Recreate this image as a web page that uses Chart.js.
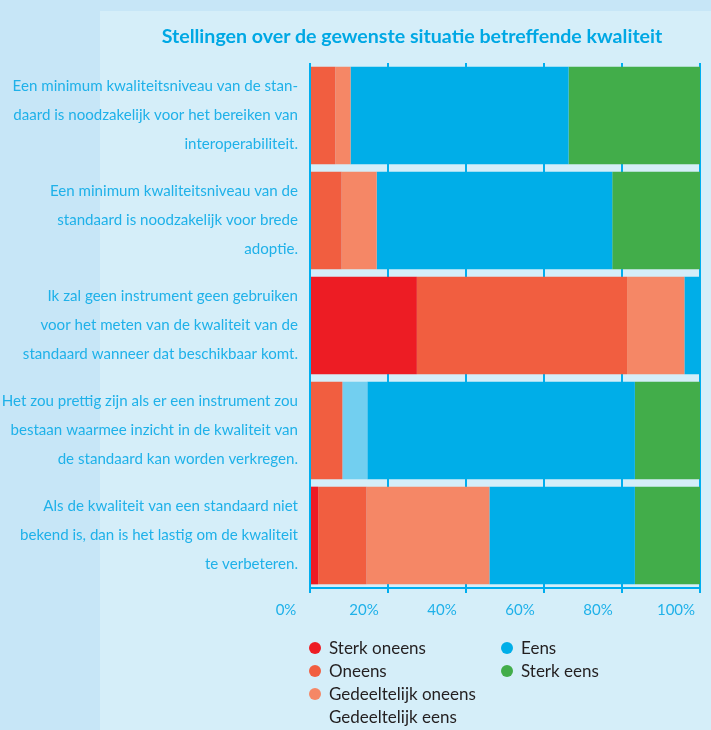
<!DOCTYPE html>
<html>
<head>
<meta charset="utf-8">
<script src="https://cdn.jsdelivr.net/npm/chart.js@4.4.0/dist/chart.umd.min.js"></script>
<style>
  html, body { margin: 0; padding: 0; }
  body { width: 711px; height: 730px; background: #c7e6f7; position: relative; overflow: hidden; font-family: Lato, "Noto Sans", sans-serif; }
  #panel { position: absolute; left: 100px; top: 11px; right: 0; bottom: 0; background: #d5eef9; }
  #wrap { position: absolute; left: 0; top: 0; width: 711px; height: 730px; }
  #title { position: absolute; left: 100px; width: 624px; top: 24px; text-align: center; font-weight: bold; font-size: 19.6px; line-height: 24px; color: #00a8e4; }
  #legend { position: absolute; left: 309px; top: 636px; display: grid; grid-auto-flow: column; grid-template-rows: repeat(4, 23px); grid-template-columns: 192px 192px; font-size: 17px; color: #231f20; }
  .item { display: flex; align-items: center; white-space: nowrap; }
  .dot { width: 12px; height: 12px; border-radius: 50%; margin-right: 8px; flex: none; }
</style>
</head>
<body>
<div id="panel"></div>
<div id="wrap"><canvas id="chart" width="711" height="730"></canvas></div>
<div id="title">Stellingen over de gewenste situatie betreffende kwaliteit</div>
<div id="legend"></div>
<script>
const categories = [
  ["Een minimum kwaliteitsniveau van de stan-", "daard is noodzakelijk voor het bereiken van", "interoperabiliteit."],
  ["Een minimum kwaliteitsniveau van de", "standaard is noodzakelijk voor brede", "adoptie."],
  ["Ik zal geen instrument geen gebruiken", "voor het meten van de kwaliteit van de", "standaard wanneer dat beschikbaar komt."],
  ["Het zou prettig zijn als er een instrument zou", "bestaan waarmee inzicht in de kwaliteit van", "de standaard kan worden verkregen."],
  ["Als de kwaliteit van een standaard niet", "bekend is, dan is het lastig om de kwaliteit", "te verbeteren."]
];

const seriesNames = ["Sterk oneens", "Oneens", "Gedeeltelijk oneens", "Gedeeltelijk eens", "Eens", "Sterk eens"];
const sterkOneens = [0, 0, 27.4, 0, 2.1];
const oneens = [6.5, 8.1, 53.9, 8.3, 12.4];
const gedeeltelijkOneens = [3.9, 9.0, 14.7, 0, 31.5];
const gedeeltelijkEens = [0, 0, 0, 6.4, 0];
const eens = [55.9, 60.4, 4.0, 68.6, 37.3];
const sterkEens = [33.7, 22.5, 0, 16.7, 16.7];
const xTicks = [0, 20, 40, 60, 80, 100];

const colors = ["#ed1c24", "#f15e40", "#f58766", "#72cff0", "#00aee8", "#42ad4a"];
const noDot = [false, false, false, true, false, false];
const blue = "#00aeef";
const labelBlue = "#1fb1e9";
const family = "Lato, 'Noto Sans', sans-serif";

const values = [sterkOneens, oneens, gedeeltelijkOneens, gedeeltelijkEens, eens, sterkEens];

const datasets = seriesNames.map((name, i) => ({
  label: name,
  data: values[i],
  backgroundColor: colors[i],
  borderWidth: 0,
  barPercentage: 0.93,
  categoryPercentage: 1.0
}));

new Chart(document.getElementById("chart").getContext("2d"), {
  type: "bar",
  data: { labels: categories, datasets: datasets },
  options: {
    indexAxis: "y",
    responsive: false,
    animation: false,
    layout: { padding: { top: 63, right: 11, bottom: 102, left: 0 } },
    plugins: { legend: { display: false }, tooltip: { enabled: false } },
    scales: {
      x: {
        stacked: true,
        min: 0,
        max: 100,
        afterBuildTicks: s => { s.ticks = xTicks.map(v => ({ value: v })); },
        afterFit: s => { s.height = 40; s.paddingLeft = 0; s.paddingRight = 0; },
        grid: { color: blue, lineWidth: 2, tickLength: 5 },
        border: { display: true, color: blue, width: 2 },
        ticks: {
          labelOffset: -24,
          padding: 8,
          color: labelBlue,
          font: { size: 15, family: family },
          callback: v => v + "%"
        }
      },
      y: {
        stacked: true,
        afterFit: s => { s.width = 310; s.paddingTop = 0; s.paddingBottom = 0; },
        grid: { display: false, drawTicks: false },
        border: { display: false },
        ticks: {
          autoSkip: false,
          padding: 12,
          color: labelBlue,
          font: { size: 15.1, family: family, lineHeight: 1.92 }
        }
      }
    }
  }
});

// legend, two columns like the original
const legend = document.getElementById("legend");
seriesNames.forEach((name, i) => {
  let item = document.createElement("div");
  item.className = "item";
  item.innerHTML = `<span class="dot" style="background:${colors[i]};${noDot[i] ? "visibility:hidden;" : ""}"></span>${name}`;
  legend.appendChild(item);
});
</script>
</body>
</html>
